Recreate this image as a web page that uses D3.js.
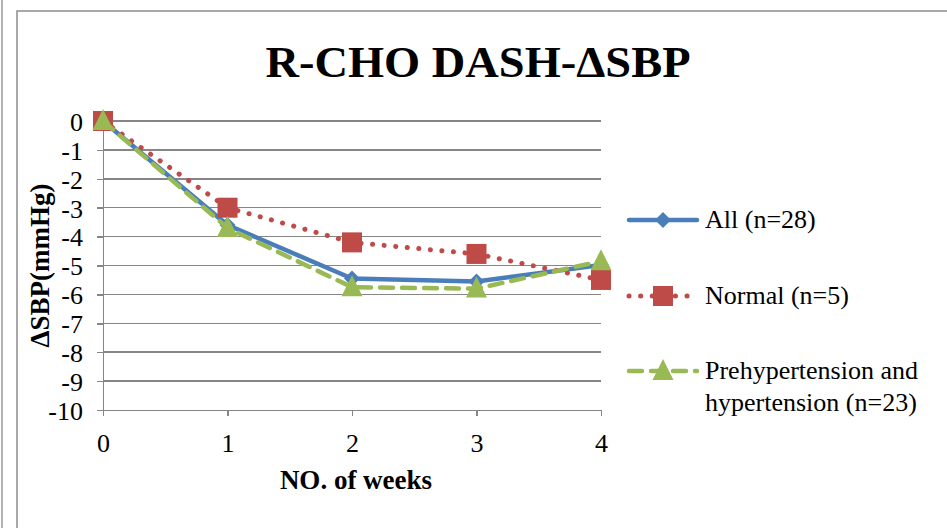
<!DOCTYPE html>
<html>
<head>
    <title>R-CHO DASH-ΔSBP</title>
    <style>
        body { margin: 0; background: #fff; }
        svg text { font-family: "Liberation Serif", "Times New Roman", serif; fill: #000; }
        .axis path, .axis line { stroke: #868686; stroke-width: 1.5; shape-rendering: crispEdges; }
        .axis text { font-size: 26px; }
        .grid line { stroke: #868686; stroke-width: 1.5; shape-rendering: crispEdges; }
    </style>
</head>
<body>
<div id="chart"></div>
<script src="https://d3js.org/d3.v7.min.js"></script>
<script>
    // data
    const weeks = [0, 1, 2, 3, 4];
    const allVals = [0, -3.6, -5.45, -5.55, -4.98];
    const normalVals = [0, -3.0, -4.2, -4.6, -5.5];
    const prehypVals = [0, -3.7, -5.75, -5.8, -4.85];
    const yTicks = [0, -1, -2, -3, -4, -5, -6, -7, -8, -9, -10];
    const seriesNames = ["All (n=28)", "Normal (n=5)", "Prehypertension and|hypertension (n=23)"];

    const series = [
        { name: seriesNames[0], values: allVals, color: "#4a7ebb", dash: null, width: 4.5, marker: "diamond" },
        { name: seriesNames[1], values: normalVals, color: "#be4b48", dash: "0.1 11.5", width: 5, marker: "square" },
        { name: seriesNames[2], values: prehypVals, color: "#98b954", dash: "13 9", width: 4.5, marker: "triangle" }
    ];

    const svg = d3.select("#chart").append("svg")
        .attr("width", 947)
        .attr("height", 528);

    // outer frames
    svg.append("line").attr("x1", 2).attr("x2", 2).attr("y1", 0).attr("y2", 528)
        .attr("stroke", "#b4b4b4").attr("stroke-width", 2);
    svg.append("rect").attr("x", 17).attr("y", 11).attr("width", 960).attr("height", 540)
        .attr("fill", "none").attr("stroke", "#8c8c8c").attr("stroke-width", 1.5);

    svg.append("text")
        .attr("x", 478).attr("y", 77)
        .attr("text-anchor", "middle")
        .attr("font-size", "45px").attr("font-weight", "bold")
        .attr("textLength", 425).attr("lengthAdjust", "spacingAndGlyphs")
        .text("R-CHO DASH-ΔSBP");

    const x = d3.scaleLinear().domain([0, 4]).range([103, 601]);
    const y = d3.scaleLinear().domain([-10, 0]).range([410, 121]);

    // gridlines
    svg.append("g").attr("class", "grid")
        .selectAll("line")
        .data(yTicks.filter(d => d !== -10))
        .enter().append("line")
        .attr("x1", x(0)).attr("x2", x(4))
        .attr("y1", d => y(d)).attr("y2", d => y(d));

    const yAxis = svg.append("g").attr("class", "axis")
        .attr("transform", `translate(${x(0)},0)`)
        .call(d3.axisLeft(y).tickValues(yTicks).tickSize(6).tickPadding(14).tickSizeOuter(0).tickFormat(d => String(d)));
    yAxis.selectAll("text").attr("dy", "0.36em");

    const xAxis = svg.append("g").attr("class", "axis")
        .attr("transform", `translate(0,${y(-10)})`)
        .call(d3.axisBottom(x).tickValues(weeks).tickSize(6).tickPadding(14).tickSizeOuter(0).tickFormat(d => String(d)));
    xAxis.selectAll("text").attr("dy", "0.85em");

    svg.append("text")
        .attr("x", 356).attr("y", 489)
        .attr("text-anchor", "middle")
        .attr("font-size", "27px").attr("font-weight", "bold")
        .text("NO. of weeks");

    svg.append("text")
        .attr("transform", `translate(49,${y(-5)}) rotate(-90)`)
        .attr("text-anchor", "middle")
        .attr("font-size", "27px").attr("font-weight", "bold")
        .text("ΔSBP(mmHg)");

    const line = d3.line().x((d, i) => x(weeks[i])).y(d => y(d));

    function drawMarker(g, type, cx, cy, color) {
        if (type === "diamond") {
            g.append("path").attr("d", `M${cx},${cy - 8}L${cx + 8},${cy}L${cx},${cy + 8}L${cx - 8},${cy}Z`).attr("fill", color);
        } else if (type === "square") {
            g.append("rect").attr("x", cx - 10).attr("y", cy - 10).attr("width", 20).attr("height", 20).attr("fill", color);
        } else {
            g.append("path").attr("d", `M${cx},${cy - 12}L${cx + 10.5},${cy + 9}L${cx - 10.5},${cy + 9}Z`).attr("fill", color);
        }
    }

    series.forEach(s => {
        const g = svg.append("g");
        g.append("path")
            .datum(s.values)
            .attr("d", line)
            .attr("fill", "none")
            .attr("stroke", s.color)
            .attr("stroke-width", s.width)
            .attr("stroke-linecap", "round")
            .attr("stroke-linejoin", "round")
            .attr("stroke-dasharray", s.dash);
        s.values.forEach((v, i) => drawMarker(g, s.marker, x(weeks[i]), y(v), s.color));
    });

    // legend
    const legendY = [220, 296, 371];
    series.forEach((s, i) => {
        const g = svg.append("g");
        const ly = legendY[i];
        g.append("line")
            .attr("x1", 629).attr("x2", 697).attr("y1", ly).attr("y2", ly)
            .attr("stroke", s.color).attr("stroke-width", s.width)
            .attr("stroke-linecap", "round")
            .attr("stroke-dasharray", s.dash);
        drawMarker(g, s.marker, 663, ly, s.color);
        const lines = s.name.split("|");
        lines.forEach((t, j) => {
            g.append("text")
                .attr("x", 705).attr("y", ly + 8 + j * 32)
                .attr("font-size", "26px")
                .text(t);
        });
    });
</script>
</body>
</html>
